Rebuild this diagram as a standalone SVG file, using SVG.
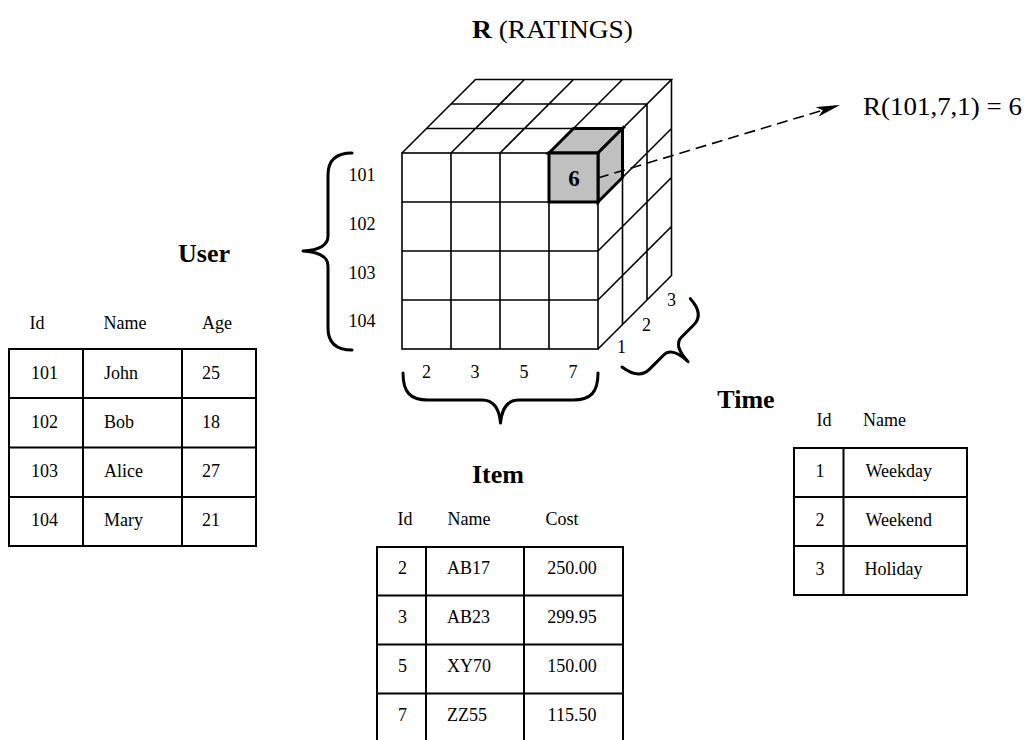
<svg xmlns="http://www.w3.org/2000/svg" width="1028" height="740" viewBox="0 0 1028 740">
<defs>
<style>
text{font-family:"Liberation Serif","Times New Roman",serif;fill:#000}
.t{font-size:18px}
.h{font-size:26px;font-weight:bold}
.m{text-anchor:middle}
.g{fill:none;stroke:#000;stroke-width:1.6}
.tb{fill:none;stroke:#000;stroke-width:2}
.br{fill:none;stroke:#000;stroke-width:3;stroke-linecap:round;stroke-linejoin:round}
.hl{fill:#c0c0c0;stroke:#000;stroke-width:3;stroke-linejoin:miter}
</style>
<marker id="ah" viewBox="0 0 24 10" refX="24" refY="5" markerWidth="24" markerHeight="10" markerUnits="userSpaceOnUse" orient="auto">
<path d="M0,0 L24,5 L0,10 L6,5 z" fill="#000"/>
</marker>
</defs>
<rect width="1028" height="740" fill="#fff"/>

<text x="472" y="38" style="font-size:25px" textLength="161" lengthAdjust="spacingAndGlyphs"><tspan font-weight="bold">R</tspan> (RATINGS)</text>

<g id="cube">
<rect class="g" x="402" y="153" width="196" height="196"/>
<path class="g" d="M451,153V349M500,153V349M549,153V349M402,202H598M402,251H598M402,300H598"/>
<path class="g" d="M402,153L475.5,79.5H671.5L598,153M426.5,128.5H622.5M451,104H647M451,153L524.5,79.5M500,153L573.5,79.5M549,153L622.5,79.5"/>
<path class="g" d="M671.5,79.5V275.5L598,349M622.5,128.5V324.5M647,104V300M598,202L671.5,128.5M598,251L671.5,177.5M598,300L671.5,226.5"/>
<polygon class="hl" points="549,153 573.5,128.5 622.5,128.5 598,153"/>
<polygon class="hl" points="598,153 622.5,128.5 622.5,177.5 598,202"/>
<rect class="hl" x="549" y="153" width="49" height="49"/>
<text x="574" y="186" class="m" style="font-size:23px;font-weight:bold">6</text>
</g>

<g id="axis-user">
<text class="t m" x="362" y="181">101</text>
<text class="t m" x="362" y="230">102</text>
<text class="t m" x="362" y="279">103</text>
<text class="t m" x="362" y="327">104</text>
</g>
<g id="axis-item">
<text class="t m" x="426.5" y="378">2</text>
<text class="t m" x="475" y="378">3</text>
<text class="t m" x="524" y="378">5</text>
<text class="t m" x="573" y="378">7</text>
</g>
<g id="axis-time">
<text class="t m" x="621.5" y="352.5">1</text>
<text class="t m" x="646.5" y="330.5">2</text>
<text class="t m" x="671.5" y="305.5">3</text>
</g>

<g id="connectors">
<path class="br" d="M352,153 C336,153 328,160 328,175 L328,236 C328,245 320,250 303,251 C320,252 328,257 328,266 L328,328 C328,343 336,350 352,350"/>
<path class="br" d="M403,373 C403,392 410,400 428,400 L482,400 C492,400 499,406 500.5,423 C502,406 509,400 519,400 L573,400 C591,400 598,392 598,373"/>
<path class="br" transform="translate(622,367) rotate(-45)" d="M0,0 C2,14 8,21 18,21 L38,21 C45,21 50,28 50.5,43 C51,28 56,21 63,21 L80,21 C90,21 96,14 96.6,0"/>
<path d="M598,178 L840,105" fill="none" stroke="#000" stroke-width="1.6" stroke-dasharray="11,6" marker-end="url(#ah)"/>
</g>

<text x="863" y="115" style="font-size:25px" textLength="159" lengthAdjust="spacingAndGlyphs">R(101,7,1) = 6</text>

<g id="user">
<text class="h m" x="204" y="262">User</text>
<text class="t m" x="37" y="329">Id</text>
<text class="t m" x="125" y="329">Name</text>
<text class="t m" x="217" y="329">Age</text>
<rect class="tb" x="9" y="349" width="247" height="197"/>
<path class="tb" d="M83,349V546M182,349V546M9,398H256M9,447.5H256M9,497H256"/>
<text class="t m" x="44.5" y="378.5">101</text>
<text class="t m" x="44.5" y="427.5">102</text>
<text class="t m" x="44.5" y="476.5">103</text>
<text class="t m" x="44.5" y="525.5">104</text>
<text class="t" x="104" y="378.5">John</text>
<text class="t" x="104" y="427.5">Bob</text>
<text class="t" x="104" y="476.5">Alice</text>
<text class="t" x="104" y="525.5">Mary</text>
<text class="t m" x="211" y="378.5">25</text>
<text class="t m" x="211" y="427.5">18</text>
<text class="t m" x="211" y="476.5">27</text>
<text class="t m" x="211" y="525.5">21</text>
</g>

<g id="item">
<text class="h m" x="498" y="483">Item</text>
<text class="t m" x="405" y="525">Id</text>
<text class="t m" x="469" y="525">Name</text>
<text class="t m" x="562" y="525">Cost</text>
<path class="tb" d="M377,750V547H623V750M426,547V750M524,547V750M377,595.5H623M377,644.5H623M377,693.5H623"/>
<text class="t m" x="402.5" y="574">2</text>
<text class="t m" x="402.5" y="623">3</text>
<text class="t m" x="402.5" y="672">5</text>
<text class="t m" x="402.5" y="721">7</text>
<text class="t" x="447" y="574">AB17</text>
<text class="t" x="447" y="623">AB23</text>
<text class="t" x="447" y="672">XY70</text>
<text class="t" x="447" y="721">ZZ55</text>
<text class="t m" x="572" y="574">250.00</text>
<text class="t m" x="572" y="623">299.95</text>
<text class="t m" x="572" y="672">150.00</text>
<text class="t m" x="572" y="721">115.50</text>
</g>

<g id="time">
<text class="h m" x="746" y="408">Time</text>
<text class="t m" x="824" y="426">Id</text>
<text class="t" x="863" y="426">Name</text>
<rect class="tb" x="794" y="448" width="173" height="147"/>
<path class="tb" d="M843.5,448V595M794,497H967M794,546H967"/>
<text class="t m" x="820" y="477">1</text>
<text class="t m" x="820" y="526">2</text>
<text class="t m" x="820" y="575">3</text>
<text class="t" x="865.5" y="477">Weekday</text>
<text class="t" x="865.5" y="526">Weekend</text>
<text class="t" x="864.5" y="575">Holiday</text>
</g>
</svg>
